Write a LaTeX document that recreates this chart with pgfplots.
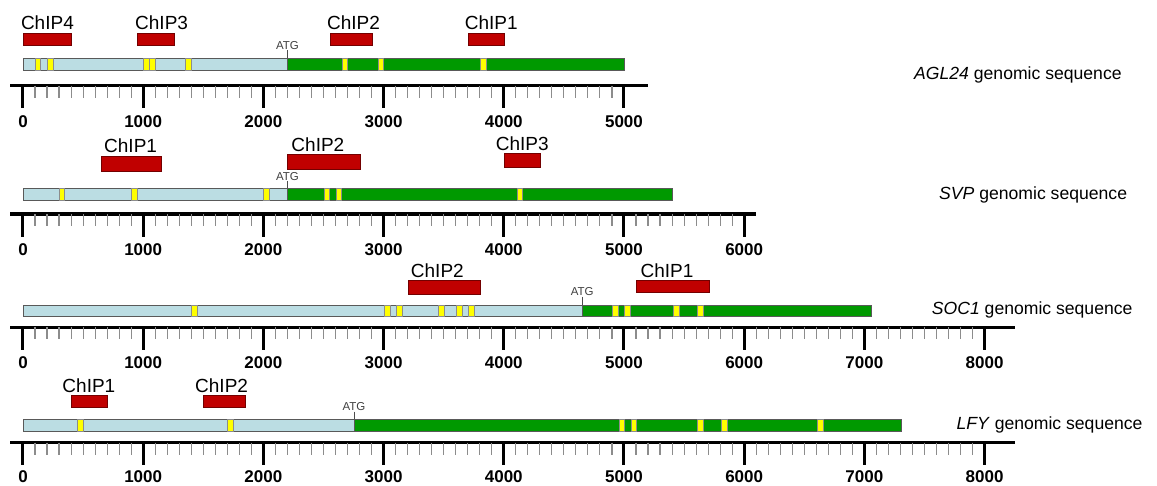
\documentclass[border=0pt]{standalone}
\usepackage{fontspec}
\setmainfont{Liberation Sans}
\usepackage{pgfplots}
\pgfplotsset{compat=1.18}
\definecolor{prom}{RGB}{187,221,227}
\definecolor{gene}{RGB}{0,153,0}
\definecolor{chip}{RGB}{192,0,0}
\definecolor{ymark}{RGB}{255,255,0}
\newcommand{\chipfont}{\fontsize{19}{19}\selectfont}
\newcommand{\genefont}{\fontsize{17.6}{17.6}\selectfont}
\newcommand{\atgfont}{\fontsize{11.5}{11.5}\selectfont}
\newcommand{\tickfont}{\fontsize{17}{17}\selectfont\bfseries}
% rectangle: style, x1, x2, top px, bottom px
\newcommand{\rect}[5]{\addplot[#1] coordinates {(#2,-#4) (#3,-#4) (#3,-#5) (#2,-#5)} --cycle;}
\newcommand{\prom}[3]{\rect{fill=prom, draw=black!65, line width=0.8pt}{0}{#1}{#2}{#3}}
\newcommand{\gene}[4]{\rect{fill=gene, draw=black!65, line width=0.8pt}{#1}{#2}{#3}{#4}}
\newcommand{\ym}[4]{\rect{fill=ymark, draw=black!45, line width=0.6pt}{#1}{#2}{#3}{#4}}
\newcommand{\chipbox}[4]{\rect{fill=chip, draw=chip!60!black, line width=0.6pt}{#1}{#2}{#3}{#4}}
% ruler ticks: #1 line y, #2 minor end, #3 major end, #4 label baseline, #5 last minor, #6 last major
\newcommand{\rulerticks}[6]{%
  \pgfplotsinvokeforeach{100,200,...,#5}{\addplot[line width=1.1pt, black!45] coordinates {(##1,#1) (##1,#2)};}
  \pgfplotsinvokeforeach{0,1000,...,#6}{\addplot[line width=3pt, black] coordinates {(##1,#1) (##1,#3)};
    \node[anchor=base, inner sep=0, font=\tickfont] at (axis cs:##1,#4) {##1};}
}
\pgfplotsset{
  ruler/.style={
    scale only axis, x=0.1202pt, y=1pt, xmin=-108,
    axis x line*=bottom, axis y line=none, clip=false,
    xtick=\empty, minor xtick=\empty,
    axis line style={line width=3.5pt, -, black},
  }
}
\begin{document}
\begin{tikzpicture}
% ---------------- AGL24 ----------------
\begin{axis}[ruler, xmax=5200, ymin=-85.7, ymax=-10, at={(0pt,-85.7pt)}, anchor=south west]
\rulerticks{-85.7}{-97.7}{-108.4}{-127}{4900}{5000}
\prom{2200}{58}{70}
\gene{2200}{5000}{58}{70}
\ym{100}{147}{58}{70}
\ym{200}{252}{58}{70}
\ym{1000}{1050}{58}{70}
\ym{1055}{1100}{58}{70}
\ym{1353}{1400}{58}{70}
\ym{2657}{2700}{58}{70}
\ym{2956}{3000}{58}{70}
\ym{3808}{3852}{58}{70}
\chipbox{0}{400}{33.3}{45.7}
\chipbox{950}{1255}{33.3}{45.7}
\chipbox{2555}{2905}{33.3}{45.7}
\chipbox{3705}{4005}{33.3}{45.7}
\addplot[black!70, line width=0.7pt] coordinates {(2200,-50) (2200,-58)};
\node[anchor=base, inner sep=0, font=\atgfont, text=black!75] at (axis cs:2200,-49) {ATG};
\node[anchor=base west, inner sep=0, font=\chipfont] at (axis cs:-18,-30) {ChIP4};
\node[anchor=base west, inner sep=0, font=\chipfont] at (axis cs:932,-30) {ChIP3};
\node[anchor=base west, inner sep=0, font=\chipfont] at (axis cs:2529,-30) {ChIP2};
\node[anchor=base west, inner sep=0, font=\chipfont] at (axis cs:3675,-30) {ChIP1};
\node[anchor=base west, inner sep=0, font=\genefont] at (axis cs:7413,-79) {\textit{AGL24} genomic sequence};
\end{axis}
% ---------------- SVP ----------------
\begin{axis}[ruler, xmax=6100, ymin=-214, ymax=-130, at={(0pt,-214pt)}, anchor=south west]
\rulerticks{-214}{-226}{-236.7}{-255.3}{5900}{6000}
\prom{2200}{188.3}{200}
\gene{2200}{5405}{188.3}{200}
\ym{302}{347}{188.3}{200}
\ym{901}{948}{188.3}{200}
\ym{2002}{2049}{188.3}{200}
\ym{2507}{2551}{188.3}{200}
\ym{2604}{2651}{188.3}{200}
\ym{4110}{4154}{188.3}{200}
\chipbox{650}{1153}{156.7}{171.7}
\chipbox{2202}{2804}{154.3}{169.3}
\chipbox{4002}{4307}{153.3}{167.7}
\addplot[black!70, line width=0.7pt] coordinates {(2200,-181) (2200,-188.3)};
\node[anchor=base, inner sep=0, font=\atgfont, text=black!75] at (axis cs:2200,-180) {ATG};
\node[anchor=base west, inner sep=0, font=\chipfont] at (axis cs:674,-152.3) {ChIP1};
\node[anchor=base west, inner sep=0, font=\chipfont] at (axis cs:2232,-151) {ChIP2};
\node[anchor=base west, inner sep=0, font=\chipfont] at (axis cs:3933,-150.7) {ChIP3};
\node[anchor=base west, inner sep=0, font=\genefont] at (axis cs:7621,-199) {\textit{SVP} genomic sequence};
\end{axis}
% ---------------- SOC1 ----------------
\begin{axis}[ruler, xmax=8250, ymin=-327.3, ymax=-260, at={(0pt,-327.3pt)}, anchor=south west]
\rulerticks{-327.3}{-339.3}{-350}{-368.6}{7900}{8000}
\prom{4653}{305}{316.7}
\gene{4653}{7060}{305}{316.7}
\ym{1403}{1450}{305}{316.7}
\ym{3006}{3053}{305}{316.7}
\ym{3103}{3153}{305}{316.7}
\ym{3455}{3505}{305}{316.7}
\ym{3608}{3655}{305}{316.7}
\ym{3705}{3755}{305}{316.7}
\ym{4906}{4953}{305}{316.7}
\ym{5006}{5050}{305}{316.7}
\ym{5410}{5458}{305}{316.7}
\ym{5610}{5657}{305}{316.7}
\chipbox{3206}{3808}{280.7}{294.3}
\chipbox{5106}{5707}{280.7}{292.3}
\addplot[black!70, line width=0.7pt] coordinates {(4653,-296.7) (4653,-305)};
\node[anchor=base, inner sep=0, font=\atgfont, text=black!75] at (axis cs:4653,-295.7) {ATG};
\node[anchor=base west, inner sep=0, font=\chipfont] at (axis cs:3226,-277.3) {ChIP2};
\node[anchor=base west, inner sep=0, font=\chipfont] at (axis cs:5136,-277.3) {ChIP1};
\node[anchor=base west, inner sep=0, font=\genefont] at (axis cs:7560,-314.3) {\textit{SOC1} genomic sequence};
\end{axis}
% ---------------- LFY ----------------
\begin{axis}[ruler, xmax=8250, ymin=-442.7, ymax=-380, at={(0pt,-442.7pt)}, anchor=south west]
\rulerticks{-442.7}{-454.7}{-465.4}{-482.3}{7900}{8000}
\prom{2754}{419.3}{431.7}
\gene{2754}{7310}{419.3}{431.7}
\ym{452}{499}{419.3}{431.7}
\ym{1703}{1747}{419.3}{431.7}
\ym{4961}{5006}{419.3}{431.7}
\ym{5058}{5106}{419.3}{431.7}
\ym{5613}{5657}{419.3}{431.7}
\ym{5812}{5859}{419.3}{431.7}
\ym{6611}{6656}{419.3}{431.7}
\chipbox{399}{701}{395}{407.3}
\chipbox{1500}{1852}{395}{407.3}
\addplot[black!70, line width=0.7pt] coordinates {(2754,-411.7) (2754,-419.3)};
\node[anchor=base, inner sep=0, font=\atgfont, text=black!75] at (axis cs:2754,-410.7) {ATG};
\node[anchor=base west, inner sep=0, font=\chipfont] at (axis cs:327,-392.7) {ChIP1};
\node[anchor=base west, inner sep=0, font=\chipfont] at (axis cs:1431,-392.7) {ChIP2};
\node[anchor=base west, inner sep=0, font=\genefont] at (axis cs:7765,-429.3) {\textit{LFY} genomic sequence};
\end{axis}
\pgfresetboundingbox
\path (-10pt,-485pt) rectangle (1147pt,0pt);
\end{tikzpicture}
\end{document}
